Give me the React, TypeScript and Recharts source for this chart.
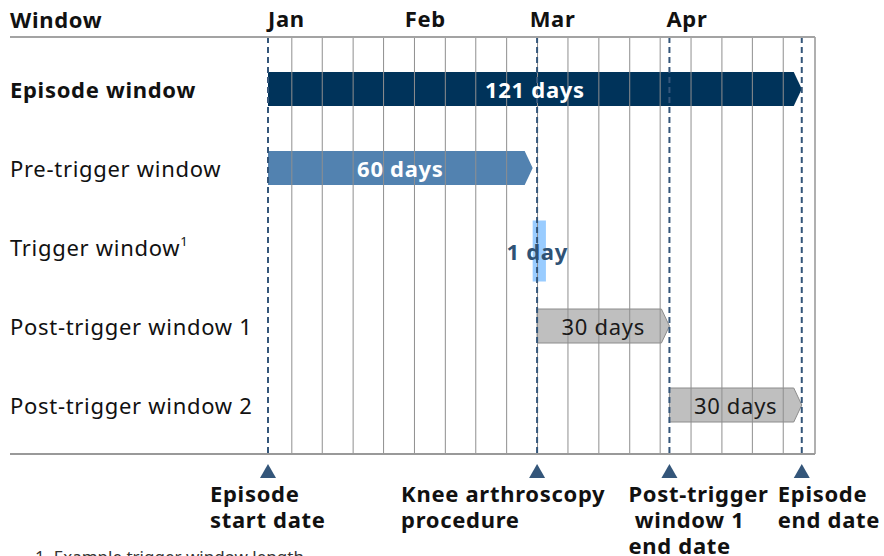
import React from "react";
import { BarChart, Bar, XAxis, YAxis, ReferenceLine, LabelList } from "recharts";

// rows of the timeline (top to bottom)
const windowNames = [
  "Episode window",
  "Pre-trigger window",
  "Trigger window",
  "Post-trigger window 1",
  "Post-trigger window 2",
];
const startDays = [0, 0, 60, 61, 91];
const endDays = [121, 60, 63, 91, 121];
const durationLabels = ["121 days", "60 days", "1 day", "30 days", "30 days"];

// top axis
const monthNames = ["Jan", "Feb", "Mar", "Apr"];
const monthStartDays = [0, 31, 60, 91];

// weekly grid lines (days from Jan 1)
const weekGridDays = [
  5.4, 12.3, 19.3, 26.2, 33.2, 40.2, 47.1, 54.1, 61.1, 68.0, 75.0, 82.0, 88.9, 95.9, 102.9, 109.8,
  116.8,
];

// milestones under the axis
const milestoneDays = [0, 61, 91, 121];
const milestoneLabels = [
  ["Episode", "start date"],
  ["Knee arthroscopy", "procedure"],
  ["Post-trigger", " window 1", "end date"],
  ["Episode", "end date"],
];

const FONT = "'Noto Sans', sans-serif";
const FS = 22;
const LS = 0.7;
const NAVY = "#34567a";

const rowStyle: Record<string, { fill: string; stroke?: string; text: string; weight: number; arrow: boolean }> = {
  "Episode window": { fill: "#00335a", text: "#ffffff", weight: 700, arrow: true },
  "Pre-trigger window": { fill: "#5282b0", text: "#ffffff", weight: 700, arrow: true },
  "Trigger window": { fill: "#99ccff", text: "#2f5275", weight: 700, arrow: false },
  "Post-trigger window 1": { fill: "#bfbfbf", stroke: "#8c8c8c", text: "#1a1a1a", weight: 400, arrow: true },
  "Post-trigger window 2": { fill: "#bfbfbf", stroke: "#8c8c8c", text: "#1a1a1a", weight: 400, arrow: true },
};

const data = windowNames.map((name, i) => ({
  name,
  range: [startDays[i], endDays[i]],
  label: durationLabels[i],
}));

const WindowShape = (props: any) => {
  const { x, y, width, height, payload } = props;
  const st = rowStyle[payload.name];
  if (!st.arrow) {
    const h = 61;
    const cy = y + height / 2 + 4;
    return <rect x={x} y={cy - h / 2} width={width} height={h} fill={st.fill} />;
  }
  const tip = 8;
  const pts = [
    [x, y],
    [x + width - tip, y],
    [x + width, y + height / 2],
    [x + width - tip, y + height],
    [x, y + height],
  ]
    .map((p) => p.join(","))
    .join(" ");
  return <polygon points={pts} fill={st.fill} stroke={st.stroke || "none"} strokeWidth={1} />;
};

const DurationLabel = (props: any) => {
  const { x, y, width, height, value, index } = props;
  const st = rowStyle[windowNames[index]];
  return (
    <text
      x={x + width / 2 - (index === 2 ? 2 : 0)}
      y={y + height / 2 + (index === 2 ? 4 : 0)}
      textAnchor="middle"
      dominantBaseline="central"
      fill={st.text}
      fontWeight={st.weight}
      fontSize={FS}
      letterSpacing={LS}
      fontFamily={FONT}
    >
      {value}
    </text>
  );
};

const RowTick = (props: any) => {
  const { y, payload } = props;
  const name: string = payload.value;
  return (
    <text
      x={10}
      y={y}
      dominantBaseline="central"
      fontSize={FS}
      letterSpacing={LS}
      fontFamily={FONT}
      fill="#111"
      fontWeight={name === "Episode window" ? 700 : 400}
    >
      {name}
      {name === "Trigger window" && (
        <tspan fontSize={13} dy={-6}>
          1
        </tspan>
      )}
    </text>
  );
};

const MonthTick = (props: any) => {
  const { x, payload } = props;
  const i = monthStartDays.indexOf(payload.value);
  return (
    <text
      x={x - (i >= 2 ? 3 : 0)}
      y={27}
      textAnchor="start"
      fontSize={FS}
      letterSpacing={LS}
      fontWeight={700}
      fontFamily={FONT}
      fill="#111"
    >
      {monthNames[i]}
    </text>
  );
};

const MilestoneMark = ({ viewBox, lines }: any) => {
  if (!viewBox) return null;
  const x = viewBox.x;
  const base = viewBox.y + viewBox.height;
  const offsets = [-58, -136, -41, -24];
  const idx = milestoneLabels.indexOf(lines);
  return (
    <g>
      <polygon points={`${x},${base + 10} ${x - 8},${base + 24} ${x + 8},${base + 24}`} fill={NAVY} />
      <text fontSize={FS} letterSpacing={LS} fontWeight={700} fontFamily={FONT} fill="#111">
        {lines.map((l: string, i: number) => (
          <tspan key={i} x={x + offsets[idx]} y={base + 48 + i * 26} style={{ whiteSpace: "pre" }}>
            {l}
          </tspan>
        ))}
      </text>
    </g>
  );
};

export default function App() {
  return (
    <div
      style={{
        position: "absolute",
        left: 0,
        top: 0,
        width: 884,
        height: 556,
        background: "#fff",
        overflow: "hidden",
        fontFamily: FONT,
      }}
    >
      <div
        style={{
          position: "absolute",
          left: 10,
          top: 4,
          fontSize: FS,
          letterSpacing: LS,
          fontWeight: 700,
          color: "#111",
        }}
      >
        Window
      </div>
      <BarChart
        width={884}
        height={556}
        data={data}
        layout="vertical"
        margin={{ top: 0, right: 69, bottom: 102, left: 0 }}
        barSize={34}
      >
        <XAxis
          type="number"
          orientation="top"
          height={37}
          domain={[0, 124]}
          ticks={monthStartDays}
          tick={<MonthTick />}
          axisLine={false}
          tickLine={false}
          allowDataOverflow
        />
        <YAxis
          type="category"
          dataKey="name"
          width={268}
          tick={<RowTick />}
          axisLine={false}
          tickLine={false}
          padding={{ top: 12, bottom: 10 }}
        />
        {weekGridDays.map((d) => (
          <ReferenceLine key={d} x={d} stroke="#8f8f8f" strokeWidth={1} />
        ))}
        <ReferenceLine x={124} stroke="#b0b0b0" strokeWidth={2} />
        {milestoneDays.map((d, i) => (
          <ReferenceLine
            key={"m" + i}
            x={d}
            stroke={NAVY}
            strokeWidth={2}
            strokeDasharray="6 4"
            label={<MilestoneMark lines={milestoneLabels[i]} />}
          />
        ))}
        <Bar dataKey="range" shape={<WindowShape />} isAnimationActive={false}>
          <LabelList dataKey="label" content={<DurationLabel />} />
        </Bar>
      </BarChart>
      <div style={{ position: "absolute", left: 10, top: 36, width: 805, borderTop: "2px solid #a3a3a3" }} />
      <div style={{ position: "absolute", left: 10, top: 453, width: 805, borderTop: "2px solid #999" }} />
      <div style={{ position: "absolute", left: 35, top: 545, fontSize: 17, color: "#333" }}>
        1. Example trigger window length
      </div>
    </div>
  );
}
